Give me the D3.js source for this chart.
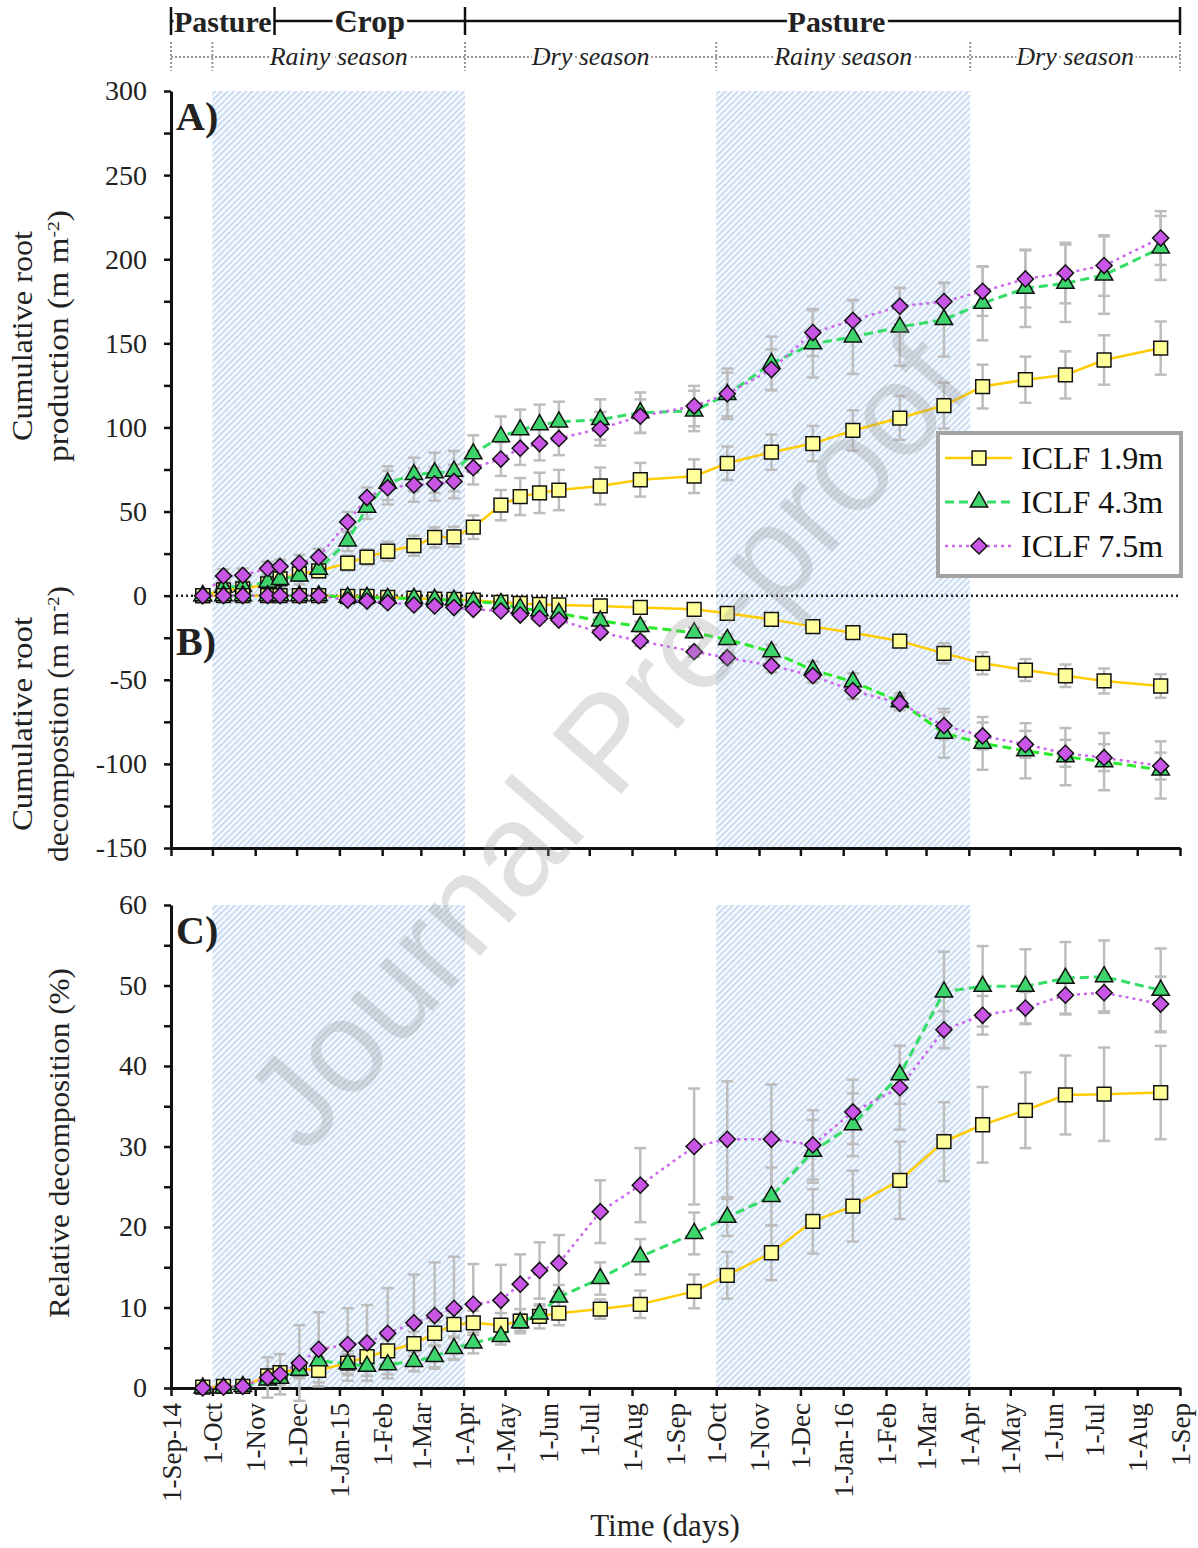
<!DOCTYPE html>
<html>
<head>
<meta charset="utf-8">
<script src="https://cdn.jsdelivr.net/npm/d3@7"></script>
<style>
body { margin: 0; background: #fff; }
svg text { font-family: "Liberation Serif", "Times New Roman", serif; }
</style>
</head>
<body>
<div id="chart"></div>
<script>
// sampling dates (same for all panels)
var sampleDates = ["2014-09-24","2014-10-09","2014-10-23","2014-11-10","2014-11-19","2014-12-03","2014-12-17",
    "2015-01-07","2015-01-21","2015-02-05","2015-02-24","2015-03-11","2015-03-25","2015-04-08","2015-04-28",
    "2015-05-12","2015-05-26","2015-06-09","2015-07-09","2015-08-07","2015-09-15","2015-10-09","2015-11-10",
    "2015-12-10","2016-01-08","2016-02-11","2016-03-14","2016-04-11","2016-05-12","2016-06-10","2016-07-08","2016-08-18"];

// A) cumulative root production (m m-2)
var prod19 = [0,3.5,4,7,10,13,14.7,19.4,22.9,26.4,29.7,34.6,35,40.7,53.8,58.9,61.1,62.8,65.2,68.9,71,78.7,85.3,90.4,98.2,105.6,113,124.3,128.4,131.2,140.1,147.2];
var prod19Err = [0,2,2,3,3,3,3,4.5,4.6,5.6,6,6,6,7,9,11,12,12,11,10,10,10,10.5,10.5,12,13,13.6,13,13.7,14,14.7,15.8];
var prod43 = [0,5,5.5,8,9.6,11.7,15.7,32.5,52.6,66.9,72,73,74,84.3,94.5,98.6,101.6,103.3,104.7,108.8,109.8,119.6,138,149.7,153.8,159.7,164.1,173.8,182.7,185.7,190.6,206.7];
var prod43Err = [0,3,3,4,5,5,5,6,7,10,10,12,12,11,12,12,12,12,12,12,12,13,16,20,22,23,22,22,23,23,23,19];
var prod75 = [0,11.7,12.1,16.2,17.4,19.2,22.9,43.8,58.3,64.2,65.8,66.5,67.9,76.1,81.2,87.7,90.4,93.5,99.2,106.7,112.7,120,134.4,156.4,163.6,172.1,174.8,180.9,188.3,191.8,196.2,212.6];
var prod75Err = [0,4,4,4,4,5,5,6,6,10,10,10,10,10,10,10,10,10,10,10,12,15,12,14,12,11,11,14.6,17,18,18,16];

// B) cumulative root decomposition (m m-2)
var dec19 = [0,0,0,0,0,0,0,-0.5,-0.5,-1,-1.5,-2,-2.2,-2.6,-4,-4.6,-5.2,-5.5,-6.1,-7,-8.1,-10.5,-14.1,-18.4,-22,-27,-34.3,-40.2,-44.2,-47.6,-50.7,-53.7];
var dec19Err = [0,0,0,0,0,0,0,1,1,1,1,1,1,1,1.5,1.5,1.5,1.5,2,2,2,2,2.5,3,3,3,6,6.6,6.5,6.7,7.4,7];
var dec43 = [0,0,0,0,0,0,0,-1,-1,-1.6,-1.6,-2.2,-2.6,-3.6,-4.6,-7.5,-8.9,-10.5,-15,-18.4,-22,-26,-33.3,-44.2,-51.1,-63,-81.8,-87.8,-92.2,-95.7,-98.7,-103.6];
var dec43Err = [0,0,0,0,0,0,0,1,1,1,1,1,1,1,1.5,2,2,2,2.5,3,3,3,4,5,5,5,14.5,15.7,16.4,17,17,17];
var dec75 = [0,0,0,0,0,0,0,-2.6,-3.2,-4.2,-5.5,-6.1,-7.1,-8.1,-9.1,-11.5,-13.5,-14.5,-21.8,-27,-33.3,-36.9,-41.6,-47.6,-56.5,-64,-77.3,-83.4,-88.4,-93.7,-96.3,-101.3];
var dec75Err = [0,0,0,0,0,0,0,1,1,1,1,1,1,1,1.5,2,2,2,2.5,3,3,3,4,4,5,4,8,8,8,8,8,8];

// C) relative decomposition (%)
var rel19 = [0.1,0.2,0.2,1.5,1.9,2.4,2.2,3.1,3.9,4.6,5.5,6.8,7.9,8.1,7.8,8.3,8.9,9.3,9.8,10.4,12,14,16.8,20.7,22.6,25.8,30.6,32.7,34.5,36.4,36.5,36.7];
var rel19Err = [0.2,0.2,0.2,0.8,0.8,1,1.5,1.5,1.5,1.5,1.5,1.5,1.5,1.5,1.5,1.5,1.5,1.5,1.2,1.7,2.1,2.9,3.4,4,4.4,4.8,4.9,4.7,4.7,4.9,5.8,5.8];
var rel43 = [0,0,0.2,1,1.2,2.2,3.4,3,2.7,2.9,3.3,3.9,4.9,5.6,6.4,8.1,9.2,11.3,13.6,16.3,19.2,21.2,23.8,29.4,32.7,38.9,49.2,49.9,49.9,50.9,51.1,49.4];
var rel43Err = [0.2,0.2,0.2,0.5,0.8,1,1.2,1.2,1.2,1.2,1.2,1.3,1.3,1.3,1,1,1,1.5,2,2.2,2.6,2.3,3.6,3.9,3.9,3.6,5,5,4.6,4.5,4.5,5.2];
var rel75 = [0,0.1,0.2,1.3,1.7,3.1,4.8,5.4,5.6,6.8,8.1,9,9.9,10.4,10.9,12.9,14.6,15.5,21.9,25.2,30,30.9,30.9,30.2,34.3,37.3,44.5,46.3,47.2,48.8,49.1,47.7];
var rel75Err = [0.2,0.2,0.2,2.5,2.5,4.7,4.6,4.5,4.7,5.6,6,6.6,6.4,5,4.4,3.7,3.5,3.5,3.9,4.6,7.2,7.2,6.8,4.3,4,5.2,2.3,2.4,2,2.3,2.3,3.4];

var seriesNames = ["ICLF 1.9m", "ICLF 4.3m", "ICLF 7.5m"];
var xTickLabels = ["1-Sep-14","1-Oct","1-Nov","1-Dec","1-Jan-15","1-Feb","1-Mar","1-Apr","1-May","1-Jun","1-Jul","1-Aug",
    "1-Sep","1-Oct","1-Nov","1-Dec","1-Jan-16","1-Feb","1-Mar","1-Apr","1-May","1-Jun","1-Jul","1-Aug","1-Sep"];
var topTicks = d3.range(-150, 301, 25);
var bottomTicks = d3.range(0, 61, 5);

// header: management phases and seasons
var phaseBounds = ["2014-09-01","2014-11-15","2015-04-02","2016-09-01"];
var phaseLabels = ["Pasture","Crop","Pasture"];
var seasonBounds = ["2014-09-01","2014-10-01","2015-04-02","2015-10-01","2016-04-02","2016-09-01"];
var seasonLabels = ["","Rainy season","Dry season","Rainy season","Dry season"];
var rainyPeriods = [["2014-10-01","2015-04-02"],["2015-10-01","2016-04-02"]];

var parseDate = d3.timeParse("%Y-%m-%d");
var dates = sampleDates.map(parseDate);

var svg = d3.select("#chart").append("svg").attr("width", 1198).attr("height", 1548);

var x = d3.scaleTime().domain([parseDate("2014-09-01"), parseDate("2016-09-01")]).range([171, 1180]);
var yTop = d3.scaleLinear().domain([-150, 300]).range([848, 91]);
var yBot = d3.scaleLinear().domain([0, 60]).range([1388, 905]);

// hatch for rainy season
var defs = svg.append("defs");
var pat = defs.append("pattern").attr("id", "hatch").attr("patternUnits", "userSpaceOnUse")
    .attr("width", 4.4).attr("height", 4.4).attr("patternTransform", "rotate(45)");
pat.append("rect").attr("width", 4.4).attr("height", 4.4).attr("fill", "#fbfdff");
pat.append("line").attr("x1", 1.1).attr("y1", 0).attr("x2", 1.1).attr("y2", 4.4)
    .attr("stroke", "#c9dcf2").attr("stroke-width", 2.2);

function shade(yScale) {
    svg.append("g").selectAll("rect").data(rainyPeriods).enter().append("rect")
        .attr("x", function(d) { return x(parseDate(d[0])); })
        .attr("width", function(d) { return x(parseDate(d[1])) - x(parseDate(d[0])); })
        .attr("y", yScale.range()[1])
        .attr("height", yScale.range()[0] - yScale.range()[1])
        .attr("fill", "url(#hatch)");
}
shade(yTop);
shade(yBot);

// zero line in panel A/B
svg.append("line").attr("x1", x.range()[0]).attr("x2", x.range()[1])
    .attr("y1", yTop(0)).attr("y2", yTop(0))
    .attr("stroke", "#222").attr("stroke-width", 2.5).attr("stroke-dasharray", "2,3");

// ---------- header ----------
var hdr = svg.append("g");
var pb = phaseBounds.map(function(d) { return x(parseDate(d)); });
hdr.append("line").attr("x1", pb[0]).attr("x2", pb[pb.length - 1]).attr("y1", 21).attr("y2", 21)
    .attr("stroke", "#111").attr("stroke-width", 2.5);
phaseLabels.forEach(function(lab, i) {
    hdr.append("text").attr("x", (pb[i] + pb[i + 1]) / 2 + (i == 2 ? 14 : 0)).attr("y", 32)
        .attr("text-anchor", "middle").attr("font-size", i == 1 ? 32 : 30).attr("font-weight", "bold")
        .attr("fill", "#222").attr("stroke", "#fff").attr("stroke-width", 7).attr("paint-order", "stroke")
        .text(lab);
});
pb.forEach(function(px) {
    hdr.append("line").attr("x1", px).attr("x2", px).attr("y1", 7).attr("y2", 35)
        .attr("stroke", "#111").attr("stroke-width", 2.5);
});

var sb = seasonBounds.map(function(d) { return x(parseDate(d)); });
hdr.append("line").attr("x1", sb[0]).attr("x2", sb[sb.length - 1]).attr("y1", 57).attr("y2", 57)
    .attr("stroke", "#999").attr("stroke-width", 2).attr("stroke-dasharray", "2,2");
seasonLabels.forEach(function(lab, i) {
    if (lab == "") return;
    hdr.append("text").attr("x", (sb[i] + sb[i + 1]) / 2).attr("y", 65)
        .attr("text-anchor", "middle").attr("font-size", 26).attr("font-style", "italic")
        .attr("fill", "#222").attr("stroke", "#fff").attr("stroke-width", 6).attr("paint-order", "stroke")
        .text(lab);
});
sb.forEach(function(px) {
    hdr.append("line").attr("x1", px).attr("x2", px).attr("y1", 42).attr("y2", 71)
        .attr("stroke", "#999").attr("stroke-width", 2).attr("stroke-dasharray", "2,2");
});

// ---------- axes ----------
function yAxis(scale, ticks, step) {
    var ax = d3.axisLeft(scale).tickValues(ticks).tickSize(7).tickSizeOuter(0).tickPadding(17)
        .tickFormat(function(d) { return d % step === 0 ? String(d) : ""; });
    var g = svg.append("g").attr("transform", "translate(" + x.range()[0] + ",0)").call(ax);
    g.select(".domain").attr("stroke", "#111").attr("stroke-width", 3);
    g.selectAll(".tick line").attr("stroke", "#111").attr("stroke-width", 2.5);
    g.selectAll(".tick text").attr("font-size", 28).attr("fill", "#222");
}
yAxis(yTop, topTicks, 50);
yAxis(yBot, bottomTicks, 10);

var monthDates = d3.timeMonth.range(x.domain()[0], d3.timeDay.offset(x.domain()[1], 1));

function xAxis(yPos, labels) {
    var ax = d3.axisBottom(x).tickValues(monthDates).tickSize(8).tickSizeOuter(0)
        .tickFormat(function(d, i) { return labels ? xTickLabels[i] : ""; });
    var g = svg.append("g").attr("transform", "translate(0," + yPos + ")").call(ax);
    g.select(".domain").attr("stroke", "#111").attr("stroke-width", 3);
    g.selectAll(".tick line").attr("stroke", "#111").attr("stroke-width", 2.5);
    if (labels) {
        g.selectAll(".tick text")
            .attr("font-size", 27).attr("fill", "#222")
            .attr("transform", "rotate(-90)")
            .attr("x", -15).attr("y", 0).attr("dy", "0.35em")
            .attr("text-anchor", "end");
    }
}
xAxis(yTop.range()[0], false);
xAxis(yBot.range()[0], true);

// ---------- series ----------
var styles = [
    {shape: d3.symbolSquare, size: 190, rot: 0, fill: "#ffff99", color: "#ffcc00", dash: null, w: 2.5},
    {shape: d3.symbolTriangle, size: 130, rot: 0, fill: "#3dd46c", color: "#33dd66", dash: "9,5", w: 3},
    {shape: d3.symbolSquare, size: 130, rot: 45, fill: "#c955e6", color: "#cc66ee", dash: "3,4", w: 2.5}
];

function drawSeries(yScale, values, errors, lineColors) {
    var g = svg.append("g");
    var sets = values.map(function(vals, s) {
        return vals.map(function(v, i) { return {date: dates[i], v: v, e: errors[s][i]}; });
    });
    // error bars
    sets.forEach(function(pts) {
        var eb = g.append("g").attr("stroke", "#bdbdbd").attr("stroke-width", 2.5);
        pts.forEach(function(p) {
            if (p.e <= 0) return;
            var px = x(p.date), y1 = yScale(p.v - p.e), y2 = yScale(p.v + p.e);
            eb.append("line").attr("x1", px).attr("x2", px).attr("y1", y1).attr("y2", y2);
            eb.append("line").attr("x1", px - 6).attr("x2", px + 6).attr("y1", y1).attr("y2", y1);
            eb.append("line").attr("x1", px - 6).attr("x2", px + 6).attr("y1", y2).attr("y2", y2);
        });
    });
    // lines
    var line = d3.line().x(function(d) { return x(d.date); }).y(function(d) { return yScale(d.v); });
    sets.forEach(function(pts, s) {
        g.append("path").datum(pts).attr("d", line).attr("fill", "none")
            .attr("stroke", lineColors ? lineColors[s] : styles[s].color)
            .attr("stroke-width", styles[s].w)
            .attr("stroke-dasharray", styles[s].dash);
    });
    // markers
    sets.forEach(function(pts, s) {
        var st = styles[s];
        g.append("g").selectAll("path").data(pts).enter().append("path")
            .attr("d", d3.symbol().type(st.shape).size(st.size))
            .attr("transform", function(d) {
                return "translate(" + x(d.date) + "," + yScale(d.v) + ") rotate(" + st.rot + ")";
            })
            .attr("fill", st.fill).attr("stroke", "#111").attr("stroke-width", 1.5);
    });
}

drawSeries(yTop, [prod19, prod43, prod75], [prod19Err, prod43Err, prod75Err]);
drawSeries(yTop, [dec19, dec43, dec75], [dec19Err, dec43Err, dec75Err], ["#ffcc00", "#2bea2b", "#cc66ee"]);
drawSeries(yBot, [rel19, rel43, rel75], [rel19Err, rel43Err, rel75Err]);

// ---------- panel letters ----------
[["A)", 130], ["B)", 655], ["C)", 944]].forEach(function(p) {
    svg.append("text").attr("x", 176).attr("y", p[1]).attr("font-size", 40).attr("font-weight", "bold")
        .attr("fill", "#222").text(p[0]);
});

// ---------- axis titles ----------
function yTitle(cx, cy, parts, len) {
    var t = svg.append("text").attr("transform", "translate(" + cx + "," + cy + ") rotate(-90)")
        .attr("text-anchor", "middle").attr("font-size", 29).attr("fill", "#222")
        .attr("textLength", len).attr("lengthAdjust", "spacingAndGlyphs");
    parts.forEach(function(p) {
        var ts = t.append("tspan").text(p.t);
        if (p.sup) ts.attr("font-size", 17).attr("baseline-shift", "super");
    });
}
yTitle(32, 336, [{t: "Cumulative root"}], 210);
yTitle(68, 336, [{t: "production (m m"}, {t: "-2", sup: true}, {t: ")"}], 252);
yTitle(32, 724, [{t: "Cumulative root"}], 214);
yTitle(68, 724, [{t: "decompostion (m m"}, {t: "-2", sup: true}, {t: ")"}], 276);
yTitle(69, 1143, [{t: "Relative decomposition (%)"}], 350);

svg.append("text").attr("x", 665).attr("y", 1536).attr("text-anchor", "middle")
    .attr("font-size", 31).attr("fill", "#222").text("Time (days)");

// ---------- legend ----------
var leg = svg.append("g");
leg.append("rect").attr("x", 938).attr("y", 433).attr("width", 243).attr("height", 143)
    .attr("fill", "#fff").attr("stroke", "#a3a3a3").attr("stroke-width", 4);
var legY = d3.scalePoint().domain(seriesNames).range([458, 546]);
seriesNames.forEach(function(name, s) {
    var st = styles[s], cy = legY(name);
    leg.append("line").attr("x1", 945).attr("x2", 1012).attr("y1", cy).attr("y2", cy)
        .attr("stroke", st.color).attr("stroke-width", st.w).attr("stroke-dasharray", st.dash);
    leg.append("path").attr("d", d3.symbol().type(st.shape).size(st.size))
        .attr("transform", "translate(979," + cy + ") rotate(" + st.rot + ")")
        .attr("fill", st.fill).attr("stroke", "#111").attr("stroke-width", 1.5);
    leg.append("text").attr("x", 1021).attr("y", cy).attr("dy", "0.35em")
        .attr("font-size", 32).attr("fill", "#111").text(name);
});

// ---------- watermark ----------
svg.append("text").attr("transform", "translate(606,742) rotate(-49)")
    .attr("text-anchor", "middle").attr("dominant-baseline", "central")
    .style("font-family", "'Liberation Sans', Arial, sans-serif").attr("font-size", 132)
    .attr("fill", "#9a9a9a").attr("opacity", 0.3)
    .text("Journal Pre-proof");
</script>
</body>
</html>
